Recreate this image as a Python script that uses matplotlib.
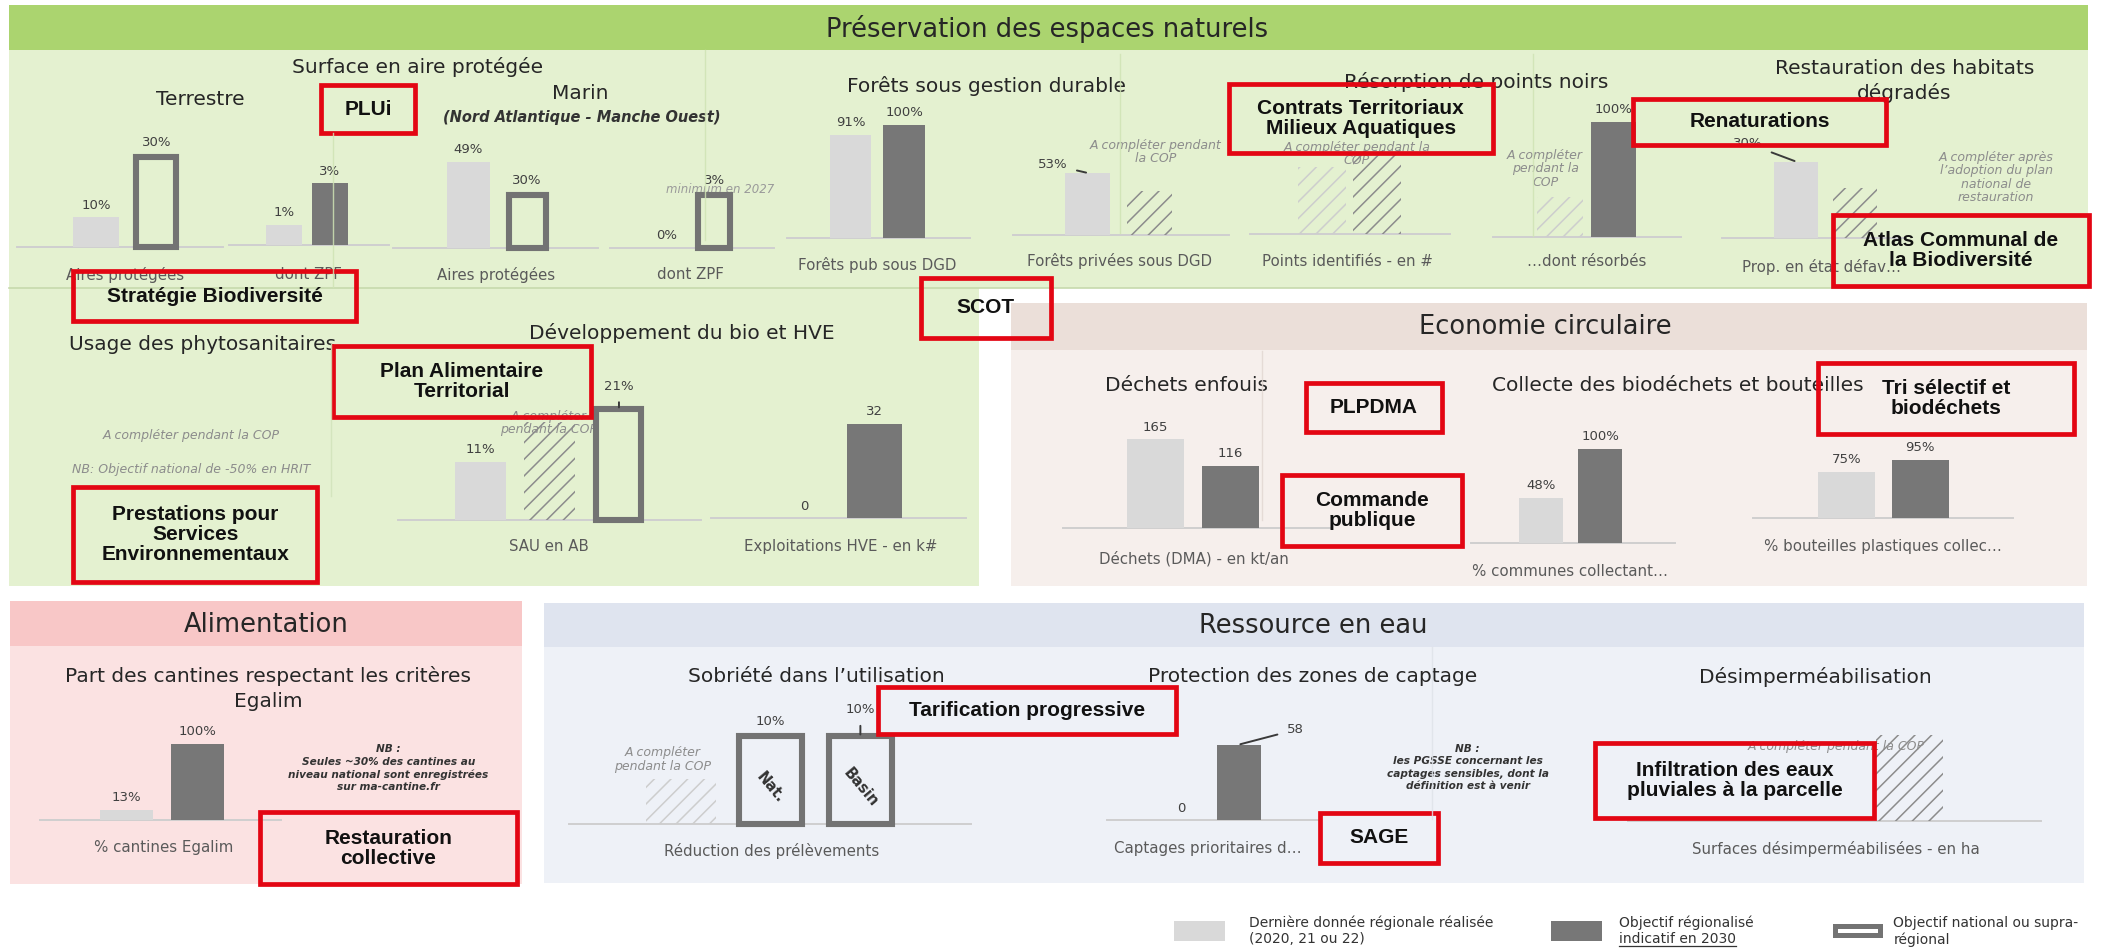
import matplotlib
matplotlib.use('Agg')
import matplotlib.pyplot as plt
from matplotlib.patches import Rectangle
from matplotlib import font_manager as fm

# ---------------- data ----------------
terre_aires = [10, 30]       # réalisé, objectif national
terre_zpf = [1, 3]           # réalisé, objectif régionalisé
marin_aires = [49, 30]       # réalisé, objectif national
marin_zpf = [0, 3]           # réalisé, objectif national (mini 2027)
forets_pub = [91, 100]       # réalisé, objectif régionalisé
forets_priv = [53]           # réalisé
points_resorbes = [100]      # objectif régionalisé
habitats_defav = [30]        # réalisé
sau_bio = [11, 21]           # réalisé, objectif national
hve = [0, 32]                # réalisé, objectif régionalisé
dechets = [165, 116]         # réalisé, objectif régionalisé
biodechets = [48, 100]
bouteilles = [75, 95]
cantines = [13, 100]
prelevements = [10, 10]      # objectif national, objectif bassin
captages = [0, 58]

cat_labels = ['Aires protégées', 'dont ZPF', 'Aires protégées', 'dont ZPF',
              'Forêts pub sous DGD', 'Forêts privées sous DGD',
              'Points identifiés - en #', '…dont résorbés', 'Prop. en état défav…',
              'SAU en AB', 'Exploitations HVE - en k#', 'Déchets (DMA) - en kt/an',
              '% communes collectant…', '% bouteilles plastiques collec…',
              '% cantines Egalim', 'Réduction des prélèvements',
              'Captages prioritaires d…', 'Surfaces désimperméabilisées - en ha']

# ---------------- style ----------------
SW, SH = 1568, 708            # layout grid
FIG_W, FIG_H, DPI = 2103, 949, 100
PT = 72 / DPI * FIG_W / SW    # points per layout unit

names = {f.name for f in fm.fontManager.ttflist}
BOX_FONT = 'Liberation Sans' if 'Liberation Sans' in names else 'DejaVu Sans'
plt.rcParams['font.family'] = ['DejaVu Sans']
plt.rcParams['hatch.linewidth'] = 1.1

GREEN_HEAD, GREEN_BODY = '#abd46f', '#e4f1d0'
ECO_HEAD, ECO_BODY = '#ebdfd9', '#f6efec'
ALIM_HEAD, ALIM_BODY = '#f8c7c7', '#fbe2e2'
EAU_HEAD, EAU_BODY = '#dfe4ef', '#eef1f7'
REAL_C, OBJ_C, NAT_C = '#d9d9d9', '#777777', '#737373'
HATCH_C, HATCH_FAINT = '#8c8c8c', '#cdcdcd'
AXIS_C = '#cfcfcf'
RED = '#e30613'
DARK, VAL_C, CAT_C, NOTE_C = '#262626', '#404040', '#5a5a5a', '#8c8c8c'
HEAD_FS, SUB_FS, CAT_FS, VAL_FS, NOTE_FS, BOX_FS = 18.5, 14.5, 10.8, 9.5, 9, 15

fig = plt.figure(figsize=(FIG_W / DPI, FIG_H / DPI), dpi=DPI)
fig.patch.set_facecolor('white')
bg = fig.add_axes([0, 0, 1, 1])
bg.set_xlim(0, SW)
bg.set_ylim(SH, 0)
bg.axis('off')


def box(ax, x0, y0, x1, y1, **kw):
    ax.add_patch(Rectangle((x0, y0), x1 - x0, y1 - y0, **kw))


def say(ax, x, y, s, size, color=DARK, ha='center', va='center', **kw):
    return ax.text(x, y, s, fontsize=size, color=color, ha=ha, va=va, **kw)


# ---------------- panels ----------------
box(bg, 6.7, 3.7, 1557, 37, fc=GREEN_HEAD, lw=0)
box(bg, 6.7, 37, 1557, 215, fc=GREEN_BODY, lw=0)
box(bg, 6.7, 215, 730, 437.4, fc=GREEN_BODY, lw=0)
bg.plot([6.7, 1557], [215, 215], color='#c6d9ad', lw=1.2)
box(bg, 753.5, 226, 1556, 261, fc=ECO_HEAD, lw=0)
box(bg, 753.5, 261, 1556, 437.4, fc=ECO_BODY, lw=0)
box(bg, 7.5, 448.6, 389.5, 482, fc=ALIM_HEAD, lw=0)
box(bg, 7.5, 482, 389.5, 659.8, fc=ALIM_BODY, lw=0)
box(bg, 405.4, 449.8, 1554, 483, fc=EAU_HEAD, lw=0)
box(bg, 405.4, 483, 1554, 658.6, fc=EAU_BODY, lw=0)

# headers
say(bg, 780.6, 21.5, 'Préservation des espaces naturels', HEAD_FS)
say(bg, 1152, 243.6, 'Economie circulaire', HEAD_FS)
say(bg, 198.7, 466, 'Alimentation', HEAD_FS)
say(bg, 979, 467.2, 'Ressource en eau', HEAD_FS)

# sub-titles
for x, y, s in [(311, 49.7, 'Surface en aire protégée'), (149, 74.5, 'Terrestre'),
                (433, 70, 'Marin'), (735.7, 64, 'Forêts sous gestion durable'),
                (1101, 61, 'Résorption de points noirs'),
                (1420, 51, 'Restauration des habitats'), (1420, 69.6, 'dégradés'),
                (151, 257, 'Usage des phytosanitaires'),
                (508, 248.6, 'Développement du bio et HVE'),
                (884.6, 287.8, 'Déchets enfouis'),
                (1251, 287.8, 'Collecte des biodéchets et bouteilles'),
                (199.7, 504, 'Part des cantines respectant les critères'),
                (199.7, 523, 'Egalim'),
                (609, 505, 'Sobriété dans l’utilisation'),
                (979, 505, 'Protection des zones de captage'),
                (1353.7, 505, 'Désimperméabilisation')]:
    say(bg, x, y, s, SUB_FS)
say(bg, 433.5, 88, '(Nord Atlantique - Manche Ouest)', 10.5, style='italic',
    fontweight='bold', color='#333333')

# notes (grey italic)
for x, y, s in [(861.5, 113.5, 'A compléter pendant\nla COP'),
                (1011.5, 115, 'A compléter pendant la\nCOP'),
                (1152, 126, 'A compléter\npendant la\nCOP'),
                (1488.4, 132.3, 'A compléter après\nl’adoption du plan\nnational de\nrestauration'),
                (142.6, 325, 'A compléter pendant la COP'),
                (142.6, 350, 'NB: Objectif national de -50% en HRIT'),
                (409, 315.5, 'A compléter\npendant la COP'),
                (494, 566.7, 'A compléter\npendant la COP'),
                (1368.7, 556.7, 'A compléter pendant la COP')]:
    say(bg, x, y, s, NOTE_FS, NOTE_C, style='italic', linespacing=1.05)
say(bg, 537, 141.6, 'minimum en 2027', 8.5, '#9a9a9a', style='italic')

say(bg, 289.6, 573, 'NB :\nSeules ~30% des cantines au\nniveau national sont enregistrées\nsur ma-cantine.fr',
    7.6, '#333333', style='italic', fontweight='bold', linespacing=1.3)
say(bg, 1094.3, 572.5, 'NB :\nles PGSSE concernant les\ncaptages sensibles, dont la\ndéfinition est à venir',
    7.6, '#333333', style='italic', fontweight='bold', linespacing=1.3)

# ---------------- bar charts ----------------
specs = [
    dict(vals=terre_aires, kinds=['real', 'nat'], slots=[0, 1], axis=(13, 166), base=184.5,
         c0=71.5, step=45, w=34, ref=1, ref_top=117.5, cat=0, cat_xy=(93, 205)),
    dict(vals=terre_zpf, kinds=['real', 'obj'], slots=[0, 1], axis=(171, 290), base=183,
         c0=212, step=34, w=27, ref=1, ref_top=136.7, cat=1, cat_xy=(230, 205)),
    dict(vals=marin_aires, kinds=['real', 'nat'], slots=[0, 1], axis=(293, 446), base=185,
         c0=349, step=44, w=32, ref=0, ref_top=120.5, cat=2, cat_xy=(370, 205)),
    dict(vals=marin_zpf, kinds=['real', 'nat'], slots=[0, 1], axis=(455, 577), base=185,
         c0=497, step=35.5, w=28, ref=1, ref_top=145.4, cat=3, cat_xy=(514.5, 205)),
    dict(vals=forets_pub, kinds=['real', 'obj'], slots=[0, 1], axis=(587, 723), base=177.5,
         c0=634.2, step=40, w=31, ref=1, ref_top=93, cat=4, cat_xy=(654, 197.6)),
    dict(vals=forets_priv, kinds=['real'], slots=[0], axis=(755, 916.5), base=175,
         c0=810.8, step=46.4, w=34, ref=0, ref_top=129, cat=5, cat_xy=(834.8, 195),
         hatches=[(1, 0.70, False)], lab={0: (-26, 6)}),
    dict(vals=[], kinds=[], slots=[], axis=(932, 1081), base=174.5,
         c0=985.5, step=41, w=36, ref=None, ref_top=112, cat=6, cat_xy=(1005, 195),
         hatches=[(0, 0.8, True), (1, 1.0, False)]),
    dict(vals=points_resorbes, kinds=['obj'], slots=[1], axis=(1113, 1253), base=176.5,
         c0=1163, step=40, w=34, ref=0, ref_top=91, cat=7, cat_xy=(1183, 195),
         hatches=[(0, 0.345, True)]),
    dict(vals=habitats_defav, kinds=['real'], slots=[0], axis=(1284, 1420), base=177.7,
         c0=1339, step=44, w=33, ref=0, ref_top=120.5, cat=8, cat_xy=(1358, 199),
         hatches=[(1, 0.66, False)], lab={0: (-36, 13.5)}),
    dict(vals=sau_bio, kinds=['real', 'nat'], slots=[0, 2], axis=(297, 523), base=388,
         c0=358.5, step=51.5, w=38, ref=1, ref_top=305, cat=9, cat_xy=(409, 408),
         hatches=[(1, 0.88, False)], lab={1: (0, 17)}),
    dict(vals=hve, kinds=['real', 'obj'], slots=[0, 1], axis=(530, 720), base=386.5, unit='',
         c0=600, step=52, w=41, ref=1, ref_top=316, cat=10, cat_xy=(627, 408)),
    dict(vals=dechets, kinds=['real', 'obj'], slots=[0, 1], axis=(792.8, 992), base=394, unit='',
         c0=861.5, step=55.8, w=42.5, ref=0, ref_top=327.6, cat=11, cat_xy=(890, 417)),
    dict(vals=biodechets, kinds=['real', 'obj'], slots=[0, 1], axis=(1097, 1249), base=405,
         c0=1149, step=44.2, w=33, ref=1, ref_top=335, cat=12, cat_xy=(1170.4, 426)),
    dict(vals=bouteilles, kinds=['real', 'obj'], slots=[0, 1], axis=(1306.8, 1501), base=386.5,
         c0=1376.8, step=54.8, w=42.5, ref=1, ref_top=343, cat=13, cat_xy=(1403.8, 407.6)),
    dict(vals=cantines, kinds=['real', 'obj'], slots=[0, 1], axis=(30, 209.7), base=611.5,
         c0=94.3, step=53, w=39.5, ref=1, ref_top=554.7, cat=14, cat_xy=(122.3, 632.5)),
    dict(vals=prelevements, kinds=['nat', 'nat'], slots=[1, 2], axis=(424.4, 724), base=615,
         c0=507.5, step=67, w=52, ref=0, ref_top=549, cat=15, cat_xy=(575, 635),
         hatches=[(0, 0.51, True)], lab={1: (0, 19.6)}, inner=['Nat.', 'Basin']),
    dict(vals=captages, kinds=['real', 'obj'], slots=[0, 1], axis=(825.5, 983), base=612, unit='',
         c0=880.5, step=43.3, w=33.5, ref=1, ref_top=555.5, cat=16, cat_xy=(900.5, 633.2),
         lab={1: (42, 11)}),
    dict(vals=[], kinds=[], slots=[], axis=(1213.5, 1521.4), base=612.6,
         c0=1423.8, step=50, w=50, ref=None, ref_top=548, cat=17, cat_xy=(1368.7, 633.7),
         hatches=[(0, 1.0, False)]),
]


def mini(sp):
    xa0, xa1 = sp['axis']
    base, top = sp['base'], sp['ref_top']
    c0, step, w = sp['c0'], sp['step'], sp['w']
    ax = fig.add_axes([xa0 / SW, 1 - base / SH, (xa1 - xa0) / SW, (base - top) / SH])
    ax.set_xlim((xa0 - c0) / step, (xa1 - c0) / step)
    vals = sp['vals']
    vref = vals[sp['ref']] if vals else 1.0
    ax.set_ylim(0, vref)
    ax.axis('off')
    ax.axhline(0, color=AXIS_C, lw=1.4, zorder=1, clip_on=False)
    bw = w / step
    for slot, frac, faint in sp.get('hatches', []):
        ax.bar(slot, frac * vref, bw, facecolor='none',
               edgecolor=HATCH_FAINT if faint else HATCH_C, hatch='//', lw=0,
               zorder=2, clip_on=False)
    unit = sp.get('unit', '%')
    inner = sp.get('inner')
    for k, (slot, kind, v) in enumerate(zip(sp['slots'], sp['kinds'], vals)):
        if kind == 'nat':
            ax.bar(slot, v, bw - 4.5 / step, facecolor='none', edgecolor=NAT_C, lw=4.4,
                   zorder=3, clip_on=False)
            lift = 6
        else:
            ax.bar(slot, v, bw, color=REAL_C if kind == 'real' else OBJ_C, lw=0,
                   zorder=3, clip_on=False)
            lift = 4
        text = f'{v}{unit}'
        off = sp.get('lab', {}).get(k)
        if off is None:
            ax.annotate(text, (slot, v), xytext=(0, lift), textcoords='offset points',
                        ha='center', va='bottom', fontsize=VAL_FS, color=VAL_C,
                        annotation_clip=False)
        else:
            ax.annotate(text, (slot, v), xytext=(off[0] * PT, off[1] * PT),
                        textcoords='offset points', ha='center', va='center',
                        fontsize=VAL_FS, color=VAL_C, annotation_clip=False,
                        arrowprops=dict(arrowstyle='-', color='#3a3a3a', lw=1.4,
                                        shrinkA=5, shrinkB=1))
        if inner:
            ax.text(slot, v * 0.42, inner[k], rotation=-50, ha='center', va='center',
                    fontsize=10.5, fontweight='bold', color='#333333', zorder=4)
    say(bg, sp['cat_xy'][0], sp['cat_xy'][1], cat_labels[sp['cat']], CAT_FS, CAT_C)
    return ax


for sp in specs:
    mini(sp)

# ---------------- legend ----------------
box(bg, 875, 687, 913, 702, fc=REAL_C, lw=0)
box(bg, 1156.5, 687, 1194.6, 702, fc=OBJ_C, lw=0)
box(bg, 1368, 690.8, 1401.5, 697.9, fc='none', ec=NAT_C, lw=3.6)
leg_lines = [(930.9, 'Dernière donnée régionale réalisée', '(2020, 21 ou 22)'),
             (1207.5, 'Objectif régionalisé', 'indicatif en 2030'),
             (1411.7, 'Objectif national ou supra-', 'régional')]
leg_second = []
for x, l1, l2 in leg_lines:
    say(bg, x, 688.4, l1, 10, '#333333', ha='left')
    leg_second.append(say(bg, x, 700.8, l2, 10, '#333333', ha='left'))

# ---------------- overlay: faint separators and red boxes ----------------
ov = fig.add_axes([0, 0, 1, 1])
ov.set_xlim(0, SW)
ov.set_ylim(SH, 0)
ov.axis('off')
ov.patch.set_alpha(0)

for x, y0, y1, c in [(248, 99, 214, '#cfe3b4'), (526, 37, 179, '#cfe3b4'),
                     (835, 40, 174, '#cfe3b4'), (1143, 40, 176, '#cfe3b4'),
                     (247, 257, 370, '#d2e4bb'), (940.7, 262, 388, '#e2d8d3'),
                     (1068, 483, 611, '#dfe3ea')]:
    ov.plot([x, x], [y0, y1], color=c, lw=1.0, alpha=0.85)

red_boxes = [
    (239.5, 63.5, 309.5, 99.5, 'PLUi'),
    (916, 62.5, 1113, 114, 'Contrats Territoriaux\nMilieux Aquatiques'),
    (1217.5, 73.5, 1406.5, 108, 'Renaturations'),
    (1366.5, 160.5, 1557.5, 213.5, 'Atlas Communal de\nla Biodiversité'),
    (54.5, 202.5, 265.5, 239.5, 'Stratégie Biodiversité'),
    (686.5, 207.5, 783.5, 252, 'SCOT'),
    (248.5, 258.5, 440.5, 311, 'Plan Alimentaire\nTerritorial'),
    (54.5, 363, 236.5, 434.5, 'Prestations pour\nServices\nEnvironnementaux'),
    (973.5, 286, 1075.5, 322, 'PLPDMA'),
    (956, 354.5, 1090, 407, 'Commande\npublique'),
    (1355.5, 271, 1546.5, 324, 'Tri sélectif et\nbiodéchets'),
    (655, 512.5, 876.5, 547.5, 'Tarification progressive'),
    (193.5, 606, 385.5, 659.5, 'Restauration\ncollective'),
    (984.5, 606.5, 1072, 643.5, 'SAGE'),
    (1189, 554.5, 1397.5, 610, 'Infiltration des eaux\npluviales à la parcelle'),
]
for x0, y0, x1, y1, s in red_boxes:
    box(ov, x0, y0, x1, y1, fc='none', ec=RED, lw=3.4, joinstyle='miter')
    ov.text((x0 + x1) / 2, (y0 + y1) / 2, s, fontsize=BOX_FS, fontweight='bold',
            family=BOX_FONT, color='#111111', ha='center', va='center', linespacing=1.05)

# underline "indicatif en 2030"
fig.canvas.draw()
r = fig.canvas.get_renderer()
bb = leg_second[1].get_window_extent(r)
inv = bg.transData.inverted()
(ux0, uy0), (ux1, _) = inv.transform([[bb.x0, bb.y0], [bb.x1, bb.y1]])
bg.plot([ux0, ux1], [uy0 - 0.5, uy0 - 0.5], color='#333333', lw=0.9)

fig.savefig('out.png', dpi=DPI, facecolor='white')
